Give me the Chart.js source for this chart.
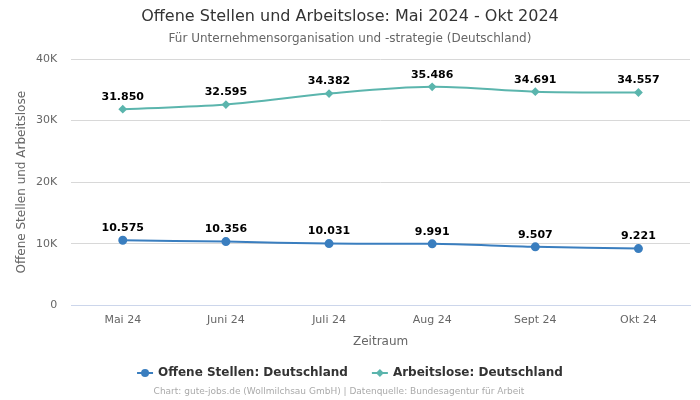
<!DOCTYPE html>
<html lang="de">
<head>
    <meta charset="UTF-8">
    <title>Offene Stellen und Arbeitslose</title>
    <script src="https://cdn.jsdelivr.net/npm/chart.js"></script>
    <style>
        body {
            margin: 0;
            padding: 0;
            background: #ffffff;
        }
        #wrap {
            position: relative;
            width: 700px;
            height: 400px;
        }
    </style>
</head>
<body>
<div id="wrap">
    <canvas id="chart" width="700" height="400"></canvas>
</div>

<script>
    // Daten
    const months = ['Mai 24', 'Juni 24', 'Juli 24', 'Aug 24', 'Sept 24', 'Okt 24'];
    const offeneStellen = [10575, 10356, 10031, 9991, 9507, 9221];
    const arbeitslose = [31850, 32595, 34382, 35486, 34691, 34557];
    const yTicks = [0, 10000, 20000, 30000, 40000];

    const titleText = 'Offene Stellen und Arbeitslose: Mai 2024 - Okt 2024';
    const subtitleText = 'Für Unternehmensorganisation und -strategie (Deutschland)';
    const yTitleText = 'Offene Stellen und Arbeitslose';
    const footerText = 'Chart: gute-jobs.de (Wollmilchsau GmbH) | Datenquelle: Bundesagentur für Arbeit';

    const FONT = '"DejaVu Sans", Arial, sans-serif';
    const blue = '#3a7ebf';
    const teal = '#5bb5ad';

    function formatDe(v) {
        return String(v).replace(/\B(?=(\d{3})+(?!\d))/g, '.');
    }

    // Titel, Werte, Legende und Fußzeile zeichnen
    const extras = {
        id: 'extras',
        afterDatasetsDraw(chart) {
            const ctx = chart.ctx;
            ctx.save();
            ctx.textAlign = 'center';
            ctx.textBaseline = 'middle';

            // Werte über den Punkten
            ctx.font = 'bold 11px ' + FONT;
            ctx.fillStyle = '#000000';
            chart.data.datasets.forEach((ds, i) => {
                chart.getDatasetMeta(i).data.forEach((pt, j) => {
                    ctx.fillText(formatDe(ds.data[j]), pt.x, pt.y - 12);
                });
            });
            ctx.restore();
        },
        afterDraw(chart) {
            const ctx = chart.ctx;
            const w = chart.width;
            const area = chart.chartArea;
            ctx.save();
            ctx.textAlign = 'center';
            ctx.textBaseline = 'middle';

            ctx.fillStyle = '#333333';
            ctx.font = '16px ' + FONT;
            ctx.fillText(titleText, w / 2, 17);

            ctx.fillStyle = '#666666';
            ctx.font = '12px ' + FONT;
            ctx.fillText(subtitleText, w / 2, 39);

            // Achsentitel links
            ctx.save();
            ctx.translate(22, (area.top + area.bottom) / 2);
            ctx.rotate(-Math.PI / 2);
            ctx.fillText(yTitleText, 0, 0);
            ctx.restore();

            // Legende
            ctx.font = 'bold 12px ' + FONT;
            const items = [
                { label: 'Offene Stellen: Deutschland', color: blue, style: 'circle' },
                { label: 'Arbeitslose: Deutschland', color: teal, style: 'diamond' }
            ];
            const symW = 16, gap = 5, itemGap = 24;
            let total = 0;
            items.forEach((it, i) => {
                it.w = symW + gap + ctx.measureText(it.label).width;
                total += it.w + (i > 0 ? itemGap : 0);
            });
            let x = w / 2 - total / 2;
            const ly = 373;
            items.forEach(it => {
                ctx.strokeStyle = it.color;
                ctx.fillStyle = it.color;
                ctx.lineWidth = 2;
                ctx.beginPath();
                ctx.moveTo(x, ly);
                ctx.lineTo(x + symW, ly);
                ctx.stroke();
                const cx = x + symW / 2;
                ctx.beginPath();
                if (it.style === 'circle') {
                    ctx.arc(cx, ly, 4, 0, Math.PI * 2);
                } else {
                    ctx.moveTo(cx, ly - 4);
                    ctx.lineTo(cx + 4, ly);
                    ctx.lineTo(cx, ly + 4);
                    ctx.lineTo(cx - 4, ly);
                    ctx.closePath();
                }
                ctx.fill();
                ctx.fillStyle = '#333333';
                ctx.textAlign = 'left';
                ctx.fillText(it.label, x + symW + gap, ly);
                x += it.w + itemGap;
            });

            ctx.textAlign = 'center';
            ctx.fillStyle = '#aaaaaa';
            ctx.font = '9px ' + FONT;
            ctx.fillText(footerText, 339, 392);
            ctx.restore();
        }
    };

    new Chart(document.getElementById('chart'), {
        type: 'line',
        data: {
            labels: months,
            datasets: [
                {
                    label: 'Offene Stellen: Deutschland',
                    data: offeneStellen,
                    borderColor: blue,
                    backgroundColor: blue,
                    borderWidth: 2,
                    pointStyle: 'circle',
                    pointRadius: 3.5,
                    pointHoverRadius: 3.5,
                    tension: 0.3
                },
                {
                    label: 'Arbeitslose: Deutschland',
                    data: arbeitslose,
                    borderColor: teal,
                    backgroundColor: teal,
                    borderWidth: 2,
                    pointStyle: 'rectRot',
                    pointRadius: 3,
                    pointHoverRadius: 3,
                    tension: 0.35
                }
            ]
        },
        options: {
            responsive: false,
            animation: false,
            layout: {
                padding: { top: 59, bottom: 51, left: 22, right: 10 }
            },
            plugins: {
                legend: { display: false },
                title: { display: false },
                tooltip: { enabled: false }
            },
            scales: {
                x: {
                    offset: true,
                    grid: { display: false, drawTicks: false },
                    border: { color: '#ccd6eb', width: 1 },
                    ticks: { color: '#666666', font: { family: FONT, size: 11 }, padding: 8 },
                    title: {
                        display: true,
                        text: 'Zeitraum',
                        color: '#666666',
                        font: { family: FONT, size: 12 },
                        padding: { top: 0, bottom: 0 }
                    }
                },
                y: {
                    min: 0,
                    max: 40000,
                    afterBuildTicks(axis) {
                        axis.ticks = yTicks.map(v => ({ value: v }));
                    },
                    grid: { color: '#d8d8d8', drawTicks: false },
                    border: { display: false },
                    ticks: {
                        color: '#666666',
                        font: { family: FONT, size: 11 },
                        padding: 14,
                        callback: v => v === 0 ? '0' : (v / 1000) + 'K'
                    }
                }
            }
        },
        plugins: [extras]
    });
</script>
</body>
</html>
